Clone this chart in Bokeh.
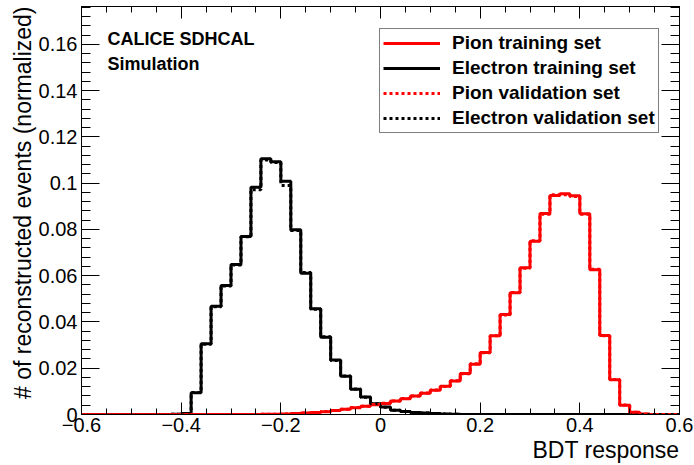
import numpy as np
from bokeh.plotting import figure
from bokeh.models import (Range1d, LinearAxis, FixedTicker, CustomJSTickFormatter,
                          Label, Legend, LegendItem, Title)
from bokeh.embed import file_html
from bokeh.resources import INLINE

# ---------------- data ----------------
bin_low = -0.6
bin_width = 0.02
n_bins = 60

pion_train = [
    0, 0, 0, 0, 0, 0, 0, 0, 0, 0,
    0, 0, 0, 0, 0, 0, 0, 0, 0.0001, 0.0001,
    0.0002, 0.0004, 0.0006, 0.0009, 0.0012, 0.0017, 0.0023, 0.0029, 0.0036, 0.0042,
    0.0048, 0.0058, 0.0068, 0.0080, 0.0092, 0.0105, 0.0122, 0.0145, 0.0177, 0.0217,
    0.0268, 0.0340, 0.0432, 0.0526, 0.0634, 0.0749, 0.0869, 0.0947, 0.0954, 0.0946,
    0.0868, 0.0626, 0.0342, 0.0150, 0.0040, 0.0010, 0.0002, 0, 0, 0,
]
electron_train = [
    0, 0, 0, 0, 0, 0, 0, 0, 0, 0.0001,
    0.0004, 0.0094, 0.0306, 0.0468, 0.0558, 0.0649, 0.0770, 0.0982, 0.1106, 0.1093,
    0.1009, 0.0799, 0.0611, 0.0457, 0.0334, 0.0236, 0.0165, 0.0109, 0.0076, 0.0046,
    0.0032, 0.0018, 0.0013, 0.0009, 0.0006, 0.0004, 0.0002, 0.0001, 0, 0,
    0, 0, 0, 0, 0, 0, 0, 0, 0, 0,
    0, 0, 0, 0, 0, 0, 0, 0, 0, 0,
]
pion_valid = [
    0, 0, 0, 0, 0, 0, 0, 0, 0, 0,
    0, 0, 0, 0, 0, 0, 0, 0, 0.0001, 0.0001,
    0.0002, 0.0004, 0.0006, 0.0009, 0.0013, 0.0017, 0.0023, 0.0030, 0.0036, 0.0043,
    0.0049, 0.0058, 0.0069, 0.0080, 0.0093, 0.0106, 0.0121, 0.0146, 0.0176, 0.0219,
    0.0267, 0.0341, 0.0430, 0.0528, 0.0632, 0.0751, 0.0866, 0.0950, 0.0950, 0.0942,
    0.0866, 0.0628, 0.0340, 0.0151, 0.0041, 0.0010, 0.0002, 0, 0, 0,
]
electron_valid = [
    0, 0, 0, 0, 0, 0, 0, 0, 0, 0.0001,
    0.0004, 0.0095, 0.0304, 0.0466, 0.0556, 0.0646, 0.0768, 0.0972, 0.1100, 0.1089,
    0.0990, 0.0795, 0.0614, 0.0455, 0.0336, 0.0234, 0.0166, 0.0110, 0.0075, 0.0047,
    0.0031, 0.0018, 0.0013, 0.0009, 0.0006, 0.0004, 0.0002, 0.0001, 0, 0,
    0, 0, 0, 0, 0, 0, 0, 0, 0, 0,
    0, 0, 0, 0, 0, 0, 0, 0, 0, 0,
]

x_ticks = [-0.6, -0.4, -0.2, 0.0, 0.2, 0.4, 0.6]
y_ticks = [0.0, 0.02, 0.04, 0.06, 0.08, 0.10, 0.12, 0.14, 0.16]
x_minor = [round(-0.6 + 0.05 * i, 3) for i in range(25)]
y_minor = [round(0.004 * i, 4) for i in range(45)]

series_names = ["Pion training set", "Electron training set",
                "Pion validation set", "Electron validation set"]

FONT = "Liberation Sans"

# ---------------- figure ----------------
edges = np.round(bin_low + bin_width * np.arange(n_bins + 1), 4)

p = figure(width=694, height=465, output_backend="svg", toolbar_location=None,
           x_range=Range1d(-0.6, 0.6), y_range=Range1d(0, 0.1764),
           x_axis_type=None, y_axis_type=None,
           min_border_left=81, min_border_right=15, min_border_top=6,
           min_border_bottom=51)
p.background_fill_color = "white"
p.border_fill_color = "white"
p.outline_line_color = "black"
p.outline_line_width = 1
p.xgrid.visible = False
p.ygrid.visible = False

x_fmt = CustomJSTickFormatter(code="""
    var s = Math.abs(tick) < 1e-9 ? "0" : tick.toFixed(1);
    return s.replace("-", "\\u2212");
""")
y_fmt = CustomJSTickFormatter(code="""
    return Math.abs(tick) < 1e-9 ? "0" : String(Number(tick.toFixed(3)));
""")
blank_fmt = CustomJSTickFormatter(code="return '';")


def style_axis(ax, major, minor, labels):
    ax.axis_line_color = "black"
    ax.major_tick_in = major
    ax.major_tick_out = 0
    ax.minor_tick_in = minor
    ax.minor_tick_out = 0
    ax.major_tick_line_color = "black"
    ax.minor_tick_line_color = "black"
    ax.major_label_text_font = FONT
    ax.major_label_text_color = "black"
    if labels:
        ax.major_label_text_font_size = "20px"
    else:
        ax.major_label_text_font_size = "0px"
        ax.major_label_standoff = 0


xb = LinearAxis(ticker=FixedTicker(ticks=x_ticks, minor_ticks=x_minor), formatter=x_fmt)
style_axis(xb, 12, 6, True)
xb.major_label_standoff = 3
p.add_layout(xb, "below")

xt = LinearAxis(ticker=FixedTicker(ticks=x_ticks, minor_ticks=x_minor), formatter=blank_fmt)
style_axis(xt, 12, 6, False)
p.add_layout(xt, "above")

yl = LinearAxis(ticker=FixedTicker(ticks=y_ticks, minor_ticks=y_minor), formatter=y_fmt)
style_axis(yl, 18, 9, True)
yl.major_label_standoff = 4
p.add_layout(yl, "left")

yr = LinearAxis(ticker=FixedTicker(ticks=y_ticks, minor_ticks=y_minor), formatter=blank_fmt)
style_axis(yr, 18, 9, False)
p.add_layout(yr, "right")

# ---------------- axis titles ----------------
p.add_layout(Title(text="BDT response", align="right", text_font=FONT,
                   text_font_size="23px", text_font_style="normal",
                   text_color="black", standoff=0, offset=0), "below")
p.add_layout(Title(text="# of reconstructed events (normalized)", align="right",
                   text_font=FONT, text_font_size="23px", text_font_style="normal",
                   text_color="black", standoff=0, offset=0), "left")

# ---------------- histograms ----------------
def step_vals(vals):
    return list(vals) + [vals[-1]]

r_et = p.step(x=edges, y=step_vals(electron_train), mode="after",
              line_color="black", line_width=3)
r_pt = p.step(x=edges, y=step_vals(pion_train), mode="after",
              line_color="#ff0000", line_width=3)
r_ev = p.step(x=edges, y=step_vals(electron_valid), mode="after",
              line_color="black", line_width=3, line_dash="3 3")
r_pv = p.step(x=edges, y=step_vals(pion_valid), mode="after",
              line_color="#ff0000", line_width=3, line_dash="3 3")

legend = Legend(items=[
    LegendItem(label=series_names[0], renderers=[r_pt]),
    LegendItem(label=series_names[1], renderers=[r_et]),
    LegendItem(label=series_names[2], renderers=[r_pv]),
    LegendItem(label=series_names[3], renderers=[r_ev]),
], location=(298, 281))
legend.label_text_font = FONT
legend.label_text_font_style = "bold"
legend.label_text_font_size = "19px"
legend.label_text_color = "black"
legend.glyph_width = 57
legend.glyph_height = 22
legend.label_height = 22
legend.label_standoff = 12
legend.padding = 3
legend.spacing = 3
legend.margin = 0
legend.border_line_color = "black"
legend.border_line_width = 1
legend.background_fill_color = "white"
legend.background_fill_alpha = 1
p.add_layout(legend)

# ---------------- texts ----------------
p.add_layout(Label(x=26, y=376, x_units="screen", y_units="screen",
                   text="CALICE SDHCAL", text_font=FONT, text_font_style="bold",
                   text_font_size="18px", text_color="black",
                   text_baseline="alphabetic"))
p.add_layout(Label(x=26, y=351, x_units="screen", y_units="screen",
                   text="Simulation", text_font=FONT, text_font_style="bold",
                   text_font_size="18px", text_color="black",
                   text_baseline="alphabetic"))

open("out.html", "w").write(file_html(p, INLINE))
